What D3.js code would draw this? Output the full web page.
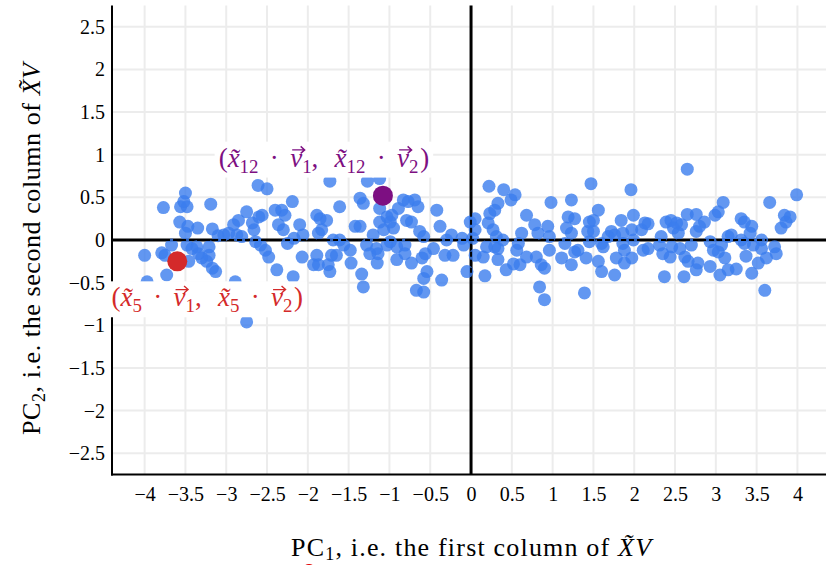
<!DOCTYPE html>
<html>
<head>
<meta charset="utf-8">
<script src="https://cdn.jsdelivr.net/npm/d3@7"></script>
<style>
  body { margin: 0; background: #fff; }
  text { font-family: "Liberation Serif", "DejaVu Serif", serif; }
</style>
</head>
<body>
<svg></svg>
<script>
var w = 833;
var h = 565;

// projections of each row on the first two principal directions
var pcX = [
  -3.50, -3.77, -3.56, -3.48, -3.52, -3.19, -3.57, -3.47, -3.35, -3.50, -3.17, -4.00, -3.79, -3.75,
  -3.67, -3.48, -3.42, -3.36, -3.34, -3.30, -3.24, -3.21, -3.46, -3.17, -3.13, -3.73, -3.97, -2.89,
  -2.75, -3.21, -3.10, -3.03, -2.97, -2.91, -2.85, -2.75, -2.87, -2.81, -2.68, -2.66, -2.60, -2.56,
  -2.64, -2.58, -2.52, -2.48, -2.61, -2.50, -2.40, -2.32, -2.28, -2.36, -2.30, -2.19, -2.38, -2.25,
  -2.17, -1.73, -1.27, -1.12, -1.61, -1.36, -1.32, -1.12, -1.03, -0.97, -0.89, -0.83, -0.77, -0.69,
  -0.65, -1.12, -0.99, -1.07, -0.95, -0.79, -0.73, -0.63, -0.58, -0.42, -0.38, -0.24, -0.11, -0.01,
  -1.89, -1.85, -1.77, -2.10, -2.06, -1.83, -1.87, -1.42, -1.36, -1.69, -1.61, -1.56, -1.48, -1.65,
  -1.71, -2.07, -1.89, -1.93, -1.87, -1.75, -1.73, -1.47, -1.28, -1.24, -1.16, -1.14, -1.15, -1.03,
  -0.99, -0.91, -0.81, -0.81, -0.91, -1.34, -1.32, -0.73, -0.60, -0.56, -0.54, -0.58, -0.67, -0.58,
  -0.46, -0.32, -0.22, -0.09, -0.36, -0.05, -2.18, -1.20, -0.30,
  0.22, 0.40, 0.54, 0.49, 0.33, 0.29, 0.23, 0.21, 0.27, 0.05, 0.05, 0.02, 0.31, 0.39, 0.29, 0.33,
  0.19, 0.05, 0.15, 0.33, 0.43, 0.17, 0.68, 0.78, 0.82, 0.94, 0.96, 0.62, 0.58, 0.56, 0.68, 0.60,
  0.80, 0.86, 0.90, 0.84, 0.90, 0.98, 0.96, 1.23, 1.19, 1.27, 1.17, 1.23, 1.15, 1.11, 1.27, 1.23,
  1.31, 1.47, 1.56, 1.45, 1.50, 1.43, 1.50, 1.45, 1.41, 1.56, 1.60, 1.39, 1.60, 1.62, 1.76, 1.72,
  1.76, 1.68, 1.84, 1.86, 1.86, 1.88, 1.78, 1.88, 1.97, 1.99, 1.97, 1.99, 2.09, 2.13, 2.11, 1.96,
  0.52, 2.65, 3.99, 3.66, 3.09, 3.03, 2.99, 2.65, 2.76, 2.86, 2.80, 2.76, 2.39, 2.45, 2.52, 2.58,
  2.48, 2.54, 2.17, 3.31, 3.35, 3.44, 3.42, 3.19, 3.15, 3.31, 3.35, 3.56, 3.46, 3.84, 3.91, 3.86,
  3.80, 2.33, 2.31, 2.35, 2.44, 2.46, 2.56, 2.62, 2.70, 2.66, 2.78, 2.76, 2.37, 2.61, 2.93, 2.97,
  3.03, 3.07, 3.11, 2.93, 3.05, 3.15, 3.25, 3.37, 3.44, 3.52, 3.56, 3.62, 3.72, 3.74, 3.60, 2.17
];
var pcY = [
  0.55, 0.38, 0.39, 0.39, 0.45, 0.42, 0.21, 0.16, 0.14, 0.08, 0.13, -0.18, -0.15, -0.18,
  -0.06, -0.06, -0.10, -0.08, -0.16, -0.21, -0.25, -0.18, -0.25, -0.33, -0.37, -0.41, -0.49, -0.49,
  -0.96, -0.08, 0.05, 0.06, 0.08, 0.18, 0.23, 0.33, 0.06, 0.04, 0.20, 0.12, 0.27, 0.29,
  -0.02, -0.06, -0.12, -0.20, 0.64, 0.60, 0.35, 0.35, 0.29, 0.18, 0.12, 0.45, -0.35, -0.04,
  0.02, 0.69, 0.69, 0.72, 0.39, 0.49, 0.43, 0.37, 0.27, 0.29, 0.37, 0.47, 0.45, 0.47,
  0.39, 0.21, 0.21, 0.12, 0.14, 0.23, 0.21, 0.10, 0.04, 0.35, 0.16, 0.06, 0.02, 0.21,
  0.29, 0.25, 0.23, 0.18, 0.06, 0.12, 0.08, 0.16, 0.16, 0.00, 0.00, -0.06, -0.12, -0.18,
  -0.18, -0.20, -0.18, -0.29, -0.29, -0.29, -0.37, -0.27, -0.06, -0.16, -0.10, -0.16, -0.27, -0.06,
  -0.02, -0.08, -0.06, -0.16, -0.23, -0.40, -0.55, -0.27, -0.21, -0.16, -0.37, -0.45, -0.59, -0.61,
  -0.10, -0.18, -0.18, -0.06, -0.47, -0.37, -0.43, 0.06, 0.00,
  0.63, 0.59, 0.53, 0.47, 0.43, 0.35, 0.31, 0.20, 0.12, 0.25, 0.12, 0.02, 0.04, 0.00, -0.08, -0.10,
  -0.08, -0.18, -0.20, -0.23, -0.35, -0.42, 0.29, 0.18, 0.08, 0.16, 0.04, 0.08, -0.04, -0.12, -0.20, -0.29,
  -0.20, -0.29, -0.33, -0.55, -0.70, 0.44, -0.12, 0.47, 0.27, 0.25, 0.14, 0.08, -0.04, -0.21, -0.14, -0.29,
  -0.12, 0.66, 0.35, 0.21, 0.23, 0.10, 0.10, -0.02, -0.21, -0.25, -0.37, -0.62, -0.04, -0.08, -0.41, 0.10,
  0.06, 0.04, 0.23, 0.08, -0.04, -0.12, -0.21, -0.27, -0.21, 0.00, 0.12, 0.29, 0.12, 0.20, -0.12, 0.59,
  -0.28, 0.83, 0.53, 0.44, 0.44, 0.33, 0.29, 0.30, 0.30, 0.21, 0.16, 0.10, 0.21, 0.23, 0.20, 0.18,
  0.14, 0.08, 0.19, 0.25, 0.21, 0.16, 0.08, 0.06, 0.04, 0.00, -0.04, 0.00, -0.06, 0.29, 0.27, 0.21,
  0.14, 0.04, -0.06, -0.16, -0.20, -0.08, -0.10, -0.20, -0.06, -0.25, -0.27, -0.35, -0.43, -0.43, -0.02, -0.12,
  -0.14, -0.06, -0.21, -0.31, -0.41, -0.35, -0.34, -0.19, -0.39, -0.27, -0.10, -0.21, -0.08, -0.16, -0.59, -0.10
];

// the two highlighted rows: x5 and x12
var markX = [-3.60, -1.08];
var markY = [-0.25, 0.52];
var markRow = ["5", "12"];

var xTicks = [-4, -3.5, -3, -2.5, -2, -1.5, -1, -0.5, 0, 0.5, 1, 1.5, 2, 2.5, 3, 3.5, 4];
var yTicks = [-2.5, -2, -1.5, -1, -0.5, 0, 0.5, 1, 1.5, 2, 2.5];

var points = pcX.map((d, i) => ({ x: d, y: pcY[i] }));

var svg = d3.select("svg").attr("width", w).attr("height", h);

var x = d3.scaleLinear().domain([-4.4, 4.35]).range([112, 826]);
var y = d3.scaleLinear().domain([-2.75, 2.75]).range([474.6, 5.4]);

// grid
svg.append("g")
  .selectAll("line")
  .data(xTicks)
  .enter()
  .append("line")
  .attr("x1", (d) => x(d))
  .attr("x2", (d) => x(d))
  .attr("y1", y.range()[1])
  .attr("y2", y.range()[0])
  .style("stroke", "#ececec")
  .style("stroke-width", 2);

svg.append("g")
  .selectAll("line")
  .data(yTicks)
  .enter()
  .append("line")
  .attr("x1", x.range()[0])
  .attr("x2", x.range()[1])
  .attr("y1", (d) => y(d))
  .attr("y2", (d) => y(d))
  .style("stroke", "#ececec")
  .style("stroke-width", 2);

// zero lines
svg.append("line")
  .attr("x1", x.range()[0]).attr("x2", x.range()[1])
  .attr("y1", y(0)).attr("y2", y(0))
  .style("stroke", "#000").style("stroke-width", 3);
svg.append("line")
  .attr("x1", x(0)).attr("x2", x(0))
  .attr("y1", y.range()[1]).attr("y2", y.range()[0])
  .style("stroke", "#000").style("stroke-width", 3);

// frame
svg.append("line")
  .attr("x1", x.range()[0]).attr("x2", x.range()[0])
  .attr("y1", y.range()[1]).attr("y2", y.range()[0] + 1)
  .style("stroke", "#000").style("stroke-width", 2);
svg.append("line")
  .attr("x1", x.range()[0] - 1).attr("x2", x.range()[1])
  .attr("y1", y.range()[0]).attr("y2", y.range()[0])
  .style("stroke", "#000").style("stroke-width", 2);

// tick labels
var xAxis = svg.append("g")
  .attr("transform", "translate(0," + y.range()[0] + ")")
  .call(d3.axisBottom(x).tickValues(xTicks).tickSize(0).tickPadding(12).tickFormat(d3.format("~g")));
var yAxis = svg.append("g")
  .attr("transform", "translate(" + x.range()[0] + ",0)")
  .call(d3.axisLeft(y).tickValues(yTicks).tickSize(0).tickPadding(7).tickFormat(d3.format("~g")));
[xAxis, yAxis].forEach((g) => {
  g.select(".domain").remove();
  g.selectAll("text")
    .attr("font-family", "Liberation Serif")
    .attr("font-size", 20)
    .attr("fill", "#000");
});

// points
svg.append("g")
  .selectAll("circle")
  .data(points)
  .enter()
  .append("circle")
  .attr("cx", (d) => x(d.x))
  .attr("cy", (d) => y(d.y))
  .attr("r", 6.5)
  .style("fill", "#3b7ded")
  .style("fill-opacity", 0.8);

// dashed bits of the axes drawn over the cloud
svg.append("line")
  .attr("x1", x(-3.75)).attr("x2", x(3.62))
  .attr("y1", y(0)).attr("y2", y(0))
  .style("stroke", "#000").style("stroke-width", 2)
  .style("stroke-dasharray", "5,3");
svg.append("line")
  .attr("x1", x(0)).attr("x2", x(0))
  .attr("y1", y(0.33)).attr("y2", y(-0.42))
  .style("stroke", "#000").style("stroke-width", 2)
  .style("stroke-dasharray", "5,3");

// lays out a small math label piece by piece, centred on 0
function mathLabel(g, parts, size, color) {
  var inner = g.append("g");
  var cx = 0;
  parts.forEach((p) => {
    var fs = p.sub ? size * 0.7 : size;
    var t = inner.append("text")
      .attr("x", cx)
      .attr("y", p.sub ? size * 0.22 : 0)
      .attr("font-size", fs)
      .attr("fill", color)
      .text(p.t);
    if (p.i) t.attr("font-style", "italic");
    var tw = t.node().getComputedTextLength();
    if (p.vec) {
      var ay = -size * 0.62;
      var x0 = cx + 2, x1 = cx + tw + 2.5;
      inner.append("path")
        .attr("d", "M" + x0 + "," + ay + "L" + x1 + "," + ay +
          "M" + (x1 - 4) + "," + (ay - 3.5) + "L" + x1 + "," + ay + "L" + (x1 - 4) + "," + (ay + 3.5))
        .attr("fill", "none")
        .attr("stroke", color)
        .attr("stroke-width", 1.4);
    }
    cx += tw + (p.gap || 0) * size;
  });
  inner.attr("transform", "translate(" + (-cx / 2) + ",0)");
  return { node: inner, width: cx };
}

function dotParts(row) {
  return [
    { t: "(" }, { t: "x\u0303", i: true }, { t: row, sub: true, gap: 0.42 }, { t: "\u00b7", gap: 0.42 },
    { t: "v", i: true, vec: true }, { t: "1", sub: true }, { t: ",", gap: 0.6 },
    { t: "x\u0303", i: true }, { t: row, sub: true, gap: 0.42 }, { t: "\u00b7", gap: 0.42 },
    { t: "v", i: true, vec: true }, { t: "2", sub: true, gap: 0.06 }, { t: ")" }
  ];
}

var markColors = ["#d42a2a", "#7d0f82"];
var labelOffset = [[30, 45], [-59, -29]];
var labelSize = 27;

markX.forEach((mx, i) => {
  var g = svg.append("g")
    .attr("transform", "translate(" + (x(mx) + labelOffset[i][0]) + "," + (y(markY[i]) + labelOffset[i][1]) + ")");
  var bg = g.append("rect").attr("fill", "#fff");
  var lab = mathLabel(g, dotParts(markRow[i]), labelSize, markColors[i]);
  var b = lab.node.node().getBBox();
  bg.attr("x", b.x - lab.width / 2 - 4)
    .attr("y", b.y - 1)
    .attr("width", b.width + 8)
    .attr("height", b.height + 2);
});

svg.append("g")
  .selectAll("circle")
  .data(markX)
  .enter()
  .append("circle")
  .attr("cx", (d) => x(d))
  .attr("cy", (d, i) => y(markY[i]))
  .attr("r", 10)
  .style("fill", (d, i) => markColors[i]);

// axis titles
var xt = svg.append("text")
  .attr("x", x(0))
  .attr("y", 556)
  .attr("text-anchor", "middle")
  .attr("font-size", 26)
  .attr("textLength", 360)
  .attr("lengthAdjust", "spacing");
xt.append("tspan").text("PC");
xt.append("tspan").attr("font-size", 18).attr("dy", 4).text("1");
xt.append("tspan").attr("dy", -4).text(", i.e. the first column of ");
xt.append("tspan").attr("font-style", "italic").text("X\u0303V");

var yt = svg.append("text")
  .attr("transform", "translate(40,249) rotate(-90)")
  .attr("text-anchor", "middle")
  .attr("font-size", 26)
  .attr("textLength", 372)
  .attr("lengthAdjust", "spacing");
yt.append("tspan").text("PC");
yt.append("tspan").attr("font-size", 18).attr("dy", 5).text("2");
yt.append("tspan").attr("dy", -5).text(", i.e. the second column of ");
yt.append("tspan").attr("font-style", "italic").text("X\u0303V");

// red marks cut off at the bottom edge
svg.append("circle").attr("cx", 309).attr("cy", 571).attr("r", 7).style("fill", "#e00000");
svg.append("circle").attr("cx", 618).attr("cy", 569).attr("r", 4).style("fill", "#e00000");
</script>
</body>
</html>
